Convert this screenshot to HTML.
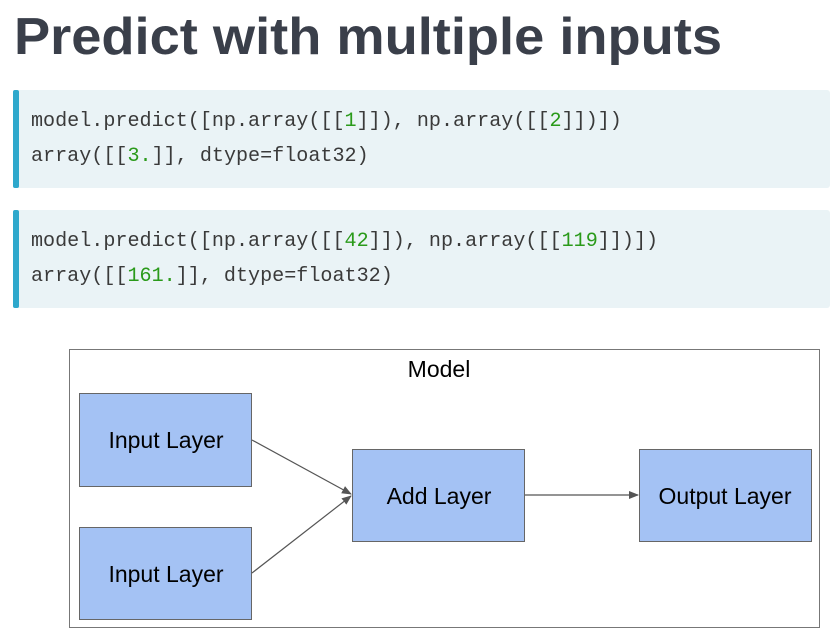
<!DOCTYPE html>
<html><head><style>body{margin:0;background:#fff}svg{display:block}</style></head><body>
<svg width="830" height="639" xmlns="http://www.w3.org/2000/svg">
<defs><marker id="a" markerWidth="10" markerHeight="10" refX="9" refY="5" orient="auto" markerUnits="userSpaceOnUse"><path d="M0,1 L10,5 L0,9 z" fill="#555"/></marker></defs>
<text x="14" y="54" font-family="Liberation Sans, sans-serif" font-weight="bold" font-size="52" fill="#3a3f4a" textLength="708" lengthAdjust="spacingAndGlyphs">Predict with multiple inputs</text>
<rect x="13" y="90" width="817" height="98" rx="3" fill="#eaf3f6"/>
<rect x="13" y="90" width="6" height="98" rx="2" fill="#2ea8cc"/>
<rect x="13" y="210" width="817" height="98" rx="3" fill="#eaf3f6"/>
<rect x="13" y="210" width="6" height="98" rx="2" fill="#2ea8cc"/>
<g font-family="Liberation Mono, monospace" font-size="20.1" fill="#3a3a3a">
<text x="31" y="126">model.predict([np.array([[<tspan fill="#2a9a1a">1</tspan>]]), np.array([[<tspan fill="#2a9a1a">2</tspan>]])])</text>
<text x="31" y="161">array([[<tspan fill="#2a9a1a">3.</tspan>]], dtype=float32)</text>
<text x="31" y="246">model.predict([np.array([[<tspan fill="#2a9a1a">42</tspan>]]), np.array([[<tspan fill="#2a9a1a">119</tspan>]])])</text>
<text x="31" y="281">array([[<tspan fill="#2a9a1a">161.</tspan>]], dtype=float32)</text>
</g>
<rect x="69.5" y="349.5" width="750" height="278" fill="#fff" stroke="#777" stroke-width="1"/>
<g fill="#a4c2f4" stroke="#666" stroke-width="1">
<rect x="79.5" y="393.5" width="172" height="93"/>
<rect x="79.5" y="527.5" width="172" height="92"/>
<rect x="352.5" y="449.5" width="172" height="92"/>
<rect x="639.5" y="449.5" width="172" height="92"/>
</g>
<g stroke="#555" stroke-width="1.2" fill="none" marker-end="url(#a)">
<line x1="252" y1="440" x2="351" y2="494"/>
<line x1="252" y1="573" x2="351" y2="496"/>
<line x1="525" y1="495" x2="638" y2="495"/>
</g>
<g font-family="Liberation Sans, sans-serif" font-size="23" fill="#000" text-anchor="middle">
<text x="439" y="377">Model</text>
<text x="166" y="448">Input Layer</text>
<text x="166" y="582">Input Layer</text>
<text x="439" y="504">Add Layer</text>
<text x="725" y="504">Output Layer</text>
</g>
</svg>
</body></html>
